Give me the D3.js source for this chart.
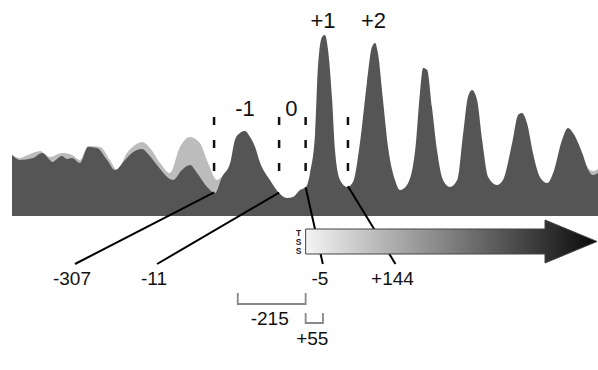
<!DOCTYPE html>
<html>
<head>
<meta charset="utf-8">
<script src="https://cdn.jsdelivr.net/npm/d3@7"></script>
<style>
  body { margin: 0; background: #fff; }
  svg { display: block; font-family: Arial, "Liberation Sans", sans-serif; }
</style>
</head>
<body>
<div id="chart"></div>
<script>
// positions are bp relative to the TSS, occupancy in arbitrary units
var darkPos = [-930, -905, -863, -835, -810, -803, -772, -756, -740, -715, -689, -661, -629, -604,
    -572, -550, -518, -499, -471, -420, -392, -366, -344, -312, -287, -265, -239, -224, -208, -192,
    -176, -160, -144, -113, -87, -59, -40, -18, 1, 14, 30, 39, 52, 61, 71, 84, 93, 109, 131, 150,
    172, 194, 210, 220, 229, 245, 261, 283, 299, 321, 347, 362, 372, 385, 400, 416, 435, 457, 480,
    499, 514, 527, 543, 559, 578, 606, 625, 654, 673, 685, 701, 720, 742, 765, 784, 812, 831, 847,
    876, 895, 910, 926];
var darkVal = [0.61, 0.56, 0.58, 0.63, 0.56, 0.54, 0.60, 0.57, 0.58, 0.53, 0.69, 0.68, 0.56, 0.46,
    0.56, 0.63, 0.67, 0.62, 0.51, 0.36, 0.46, 0.51, 0.43, 0.29, 0.23, 0.39, 0.53, 0.76, 0.83, 0.85,
    0.79, 0.69, 0.53, 0.36, 0.24, 0.18, 0.19, 0.26, 0.29, 0.43, 0.83, 1.49, 1.79, 1.81, 1.66, 1.16,
    0.66, 0.36, 0.29, 0.34, 0.73, 1.33, 1.69, 1.73, 1.63, 1.16, 0.69, 0.36, 0.26, 0.31, 0.66, 1.23,
    1.48, 1.46, 1.09, 0.66, 0.36, 0.29, 0.36, 0.83, 1.19, 1.26, 1.16, 0.76, 0.39, 0.31, 0.36, 0.73,
    1.01, 1.03, 0.93, 0.63, 0.39, 0.33, 0.43, 0.76, 0.88, 0.83, 0.63, 0.46, 0.41, 0.43];

// second profile (light), only visible where it rises above the dark one
var lightPos = [-930, -905, -880, -841, -810, -772, -740, -715, -689, -651, -620, -597, -566, -540,
    -518, -493, -461, -430, -398, -366, -335, -309, -281, -265, -250, 0, 876, 895, 910, 926];
var lightVal = [0.61, 0.58, 0.61, 0.65, 0.59, 0.63, 0.61, 0.56, 0.70, 0.69, 0.56, 0.46, 0.63, 0.71,
    0.74, 0.68, 0.53, 0.43, 0.69, 0.79, 0.73, 0.53, 0.36, 0.39, 0.40, null, 0.60, 0.48, 0.45, 0.47];

var nucLabels = ["-1", "0", "+1", "+2"];
var nucPos = [-192, -45, 55, 215];

var markerPos = [-290, -84, 0, 134];
var markerLabels = ["-307", "-11", "-5", "+144"];
var markerLabelPos = [-740, -480, 45, 275];

var bracketFrom = [-215, 0];
var bracketTo = [0, 55];
var bracketLabels = ["-215", "+55"];

var width = 598, height = 370;

var svg = d3.select("#chart").append("svg")
    .attr("width", width)
    .attr("height", height);

svg.append("rect").attr("width", width).attr("height", height).attr("fill", "#fff");

var x = d3.scaleLinear().domain([-930, 926]).range([12, 598]);
var y = d3.scaleLinear().domain([0, 2]).range([216, 16]);

var dark = darkPos.map(function(p, i) { return { p: p, v: darkVal[i] }; });
var light = lightPos.map(function(p, i) { return { p: p, v: lightVal[i] }; });

var area = d3.area()
    .defined(function(d) { return d.v != null; })
    .x(function(d) { return x(d.p); })
    .y0(y(0))
    .y1(function(d) { return y(d.v); })
    .curve(d3.curveMonotoneX);

svg.append("path").datum(light).attr("d", area).attr("fill", "#bcbcbc");
svg.append("path").datum(dark).attr("d", area).attr("fill", "#555555");

// profile value at a position (linear between read points)
var interp = d3.scaleLinear().domain(darkPos).range(darkVal);

// dashed nucleosome borders
svg.append("g").selectAll("line")
    .data(markerPos)
    .enter().append("line")
    .attr("x1", function(d) { return x(d); })
    .attr("x2", function(d) { return x(d); })
    .attr("y1", y(0.99))
    .attr("y2", y(0.44))
    .attr("stroke", "#111")
    .attr("stroke-width", 2.5)
    .attr("stroke-dasharray", "8,15");

// nucleosome labels
svg.append("g").selectAll("text")
    .data(nucLabels)
    .enter().append("text")
    .attr("x", function(d, i) { return x(nucPos[i]); })
    .attr("y", function(d, i) { return i < 2 ? 116 : 28; })
    .attr("text-anchor", "middle")
    .attr("font-size", 22)
    .attr("fill", "#111")
    .text(function(d) { return d; });

// leader lines to the position labels
svg.append("g").selectAll("line")
    .data(markerPos)
    .enter().append("line")
    .attr("x1", function(d) { return x(d); })
    .attr("y1", function(d) { return y(interp(d)); })
    .attr("x2", function(d, i) { return x(markerLabelPos[i]) + 3; })
    .attr("y2", 264)
    .attr("stroke", "#000")
    .attr("stroke-width", 2);

svg.append("g").selectAll("text")
    .data(markerLabels)
    .enter().append("text")
    .attr("x", function(d, i) { return x(markerLabelPos[i]); })
    .attr("y", 285)
    .attr("text-anchor", "middle")
    .attr("font-size", 19)
    .attr("fill", "#111")
    .text(function(d) { return d; });

// transcription arrow
var grad = svg.append("defs").append("linearGradient")
    .attr("id", "arrowGrad")
    .attr("gradientUnits", "userSpaceOnUse")
    .attr("x1", x(0)).attr("x2", width).attr("y1", 0).attr("y2", 0);
grad.append("stop").attr("offset", "0%").attr("stop-color", "#f4f4f4");
grad.append("stop").attr("offset", "100%").attr("stop-color", "#080808");

var ax0 = x(0), axTip = x(926) - 1, axHead = axTip - 52;
var shaftTop = 229, shaftBot = 254, headTop = 220, headBot = 263;
svg.append("path")
    .attr("d", "M" + ax0 + "," + shaftTop + "H" + axHead + "V" + headTop +
        "L" + axTip + "," + ((headTop + headBot) / 2) + "L" + axHead + "," + headBot +
        "V" + shaftBot + "H" + ax0 + "Z")
    .attr("fill", "url(#arrowGrad)")
    .attr("stroke", "#444")
    .attr("stroke-width", 1);

svg.append("g").selectAll("text")
    .data(["T", "S", "S"])
    .enter().append("text")
    .attr("x", ax0 - 7)
    .attr("y", function(d, i) { return 236 + i * 9; })
    .attr("text-anchor", "middle")
    .attr("font-size", 8.5)
    .attr("font-weight", "bold")
    .attr("fill", "#222")
    .text(function(d) { return d; });

// distance brackets
var bracketTop = [293, 313], bracketBot = [304, 323], bracketText = [325, 345];
svg.append("g").selectAll("path")
    .data(bracketLabels)
    .enter().append("path")
    .attr("d", function(d, i) {
        return "M" + x(bracketFrom[i]) + "," + bracketTop[i] + "V" + bracketBot[i] +
            "H" + x(bracketTo[i]) + "V" + bracketTop[i];
    })
    .attr("fill", "none")
    .attr("stroke", "#888")
    .attr("stroke-width", 1.8);

svg.append("g").selectAll("text")
    .data(bracketLabels)
    .enter().append("text")
    .attr("x", function(d, i) { return (x(bracketFrom[i]) + x(bracketTo[i])) / 2 - 2; })
    .attr("y", function(d, i) { return bracketText[i]; })
    .attr("text-anchor", "middle")
    .attr("font-size", 19)
    .attr("fill", "#111")
    .text(function(d) { return d; });
</script>
</body>
</html>
